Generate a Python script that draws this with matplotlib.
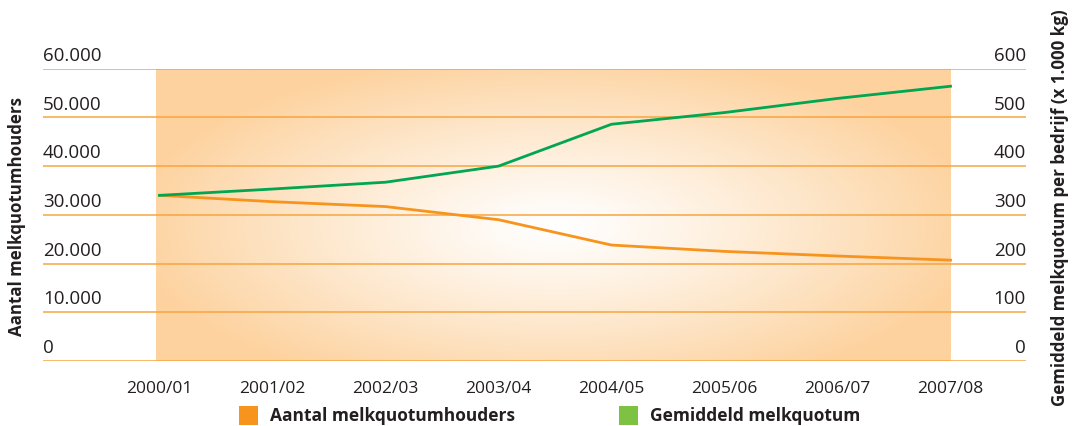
import matplotlib
matplotlib.use('Agg')
import matplotlib.pyplot as plt
import numpy as np
from matplotlib.patches import Rectangle

plt.rcParams['font.family'] = ['Open Sans', 'DejaVu Sans']

# data
seizoenen = ['2000/01', '2001/02', '2002/03', '2003/04', '2004/05', '2005/06', '2006/07', '2007/08']
aantal_houders = [34000, 32700, 31700, 29000, 23800, 22500, 21550, 20700]
gem_quotum = [340, 353, 367, 400, 486, 510, 539, 564]
links_ticks = [0, 10000, 20000, 30000, 40000, 50000, 60000]
rechts_ticks = [0, 100, 200, 300, 400, 500, 600]

ORANJE = '#F7941D'
GROEN = '#00A651'
GRID = '#F7A540'
RAND = np.array([253, 210, 158]) / 255.0
TEKST = '#231F20'

W, H = 1079, 427
fig = plt.figure(figsize=(W / 100, H / 100), dpi=100)
ax = fig.add_axes([43 / W, 65 / H, (1026 - 43) / W, 292.3 / H])

x = np.arange(len(seizoenen))
x0, x1 = -0.031, 7.0
ax.set_xlim(-1.031, 7.668)
ax.set_ylim(0, 60000)

# achtergrond met radiaal verloop
nx, ny = 400, 150
gx = np.linspace(156, 950, nx)
gy = np.linspace(70, 362, ny)
GX, GY = np.meshgrid(gx, gy)
t = np.sqrt(((GX - 555) / 430) ** 2 + ((GY - 228) / 175) ** 2)
t = np.clip(t, 0, 1) ** 1.15
img = np.ones((ny, nx, 3)) * (1 - t[..., None]) + RAND * t[..., None]
ax.imshow(img, extent=(x0, x1, 0, 60000), origin='upper', aspect='auto', zorder=0,
          interpolation='bilinear')

for v in links_ticks:
    ax.axhline(v, color=GRID, lw=1.1, zorder=1)
    ax.text(0, v + 1000, f'{v:,}'.replace(',', '.'), transform=ax.get_yaxis_transform(),
            ha='left', va='bottom', fontsize=13.5, color=TEKST)

for i, v in enumerate(rechts_ticks):
    ax.text(1, links_ticks[i] + 1000, str(v), transform=ax.get_yaxis_transform(),
            ha='right', va='bottom', fontsize=13.5, color=TEKST)

ax2 = ax.twinx()
ax2.set_ylim(0, 600)
ax2.axis('off')

ax.plot(x, aantal_houders, color=ORANJE, lw=2.0, zorder=3, solid_joinstyle='round')
ax2.plot(x, gem_quotum, color=GROEN, lw=2.0, zorder=3, solid_joinstyle='round')

for s in ax.spines.values():
    s.set_visible(False)
ax.set_yticks([])
ax.set_xticks(x)
ax.set_xticklabels(seizoenen, fontsize=12.5, color=TEKST)
ax.tick_params(axis='x', length=0, pad=14)

fig.text(17 / W, 1 - 216 / H, 'Aantal melkquotumhouders', rotation=90, ha='center', va='center',
         fontsize=12.2, fontweight='bold', color=TEKST)
fig.text(1060 / W, 1 - 208 / H, 'Gemiddeld melkquotum per bedrijf (x 1.000 kg)', rotation=90,
         ha='center', va='center', fontsize=12.2, fontweight='bold', color=TEKST)

# legenda
for (lx, kleur, label) in [(239, ORANJE, 'Aantal melkquotumhouders'), (619, '#7DC242', 'Gemiddeld melkquotum')]:
    fig.patches.append(Rectangle((lx / W, 1 - 426 / H), 19 / W, 19 / H, transform=fig.transFigure,
                                 facecolor=kleur, edgecolor='none'))
    fig.text((lx + 31) / W, 1 - 416 / H, label, ha='left', va='center', fontsize=12.5,
             fontweight='bold', color=TEKST)

fig.savefig('out.png', dpi=100)
